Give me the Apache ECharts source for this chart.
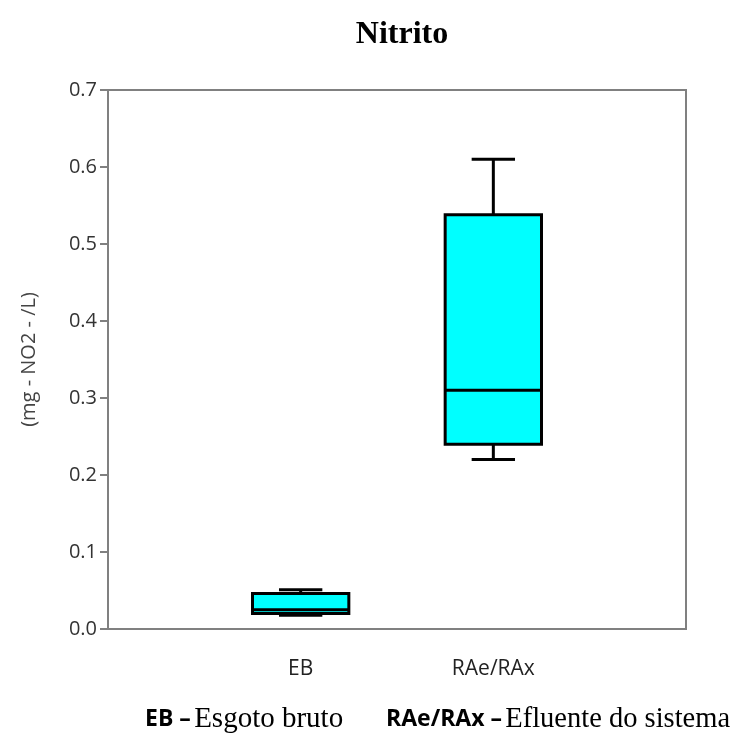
<!DOCTYPE html>
<html>
<head>
<meta charset="utf-8">
<script src="https://cdn.jsdelivr.net/npm/echarts@6/dist/echarts.min.js"></script>
<style>html,body{margin:0;padding:0;background:#fff;}#c{width:733px;height:744px;}</style>
</head>
<body>
<div id="c"></div>
<script>
var categories = ['', 'EB', 'RAe/RAx', ''];
// [category index, min, Q1, median, Q3, max]
var ebBox = [1, 0.018, 0.020, 0.025, 0.046, 0.051];
var raeBox = [2, 0.220, 0.240, 0.310, 0.538, 0.610];
var yTicks = [0, 0.1, 0.2, 0.3, 0.4, 0.5, 0.6, 0.7];

var chart = echarts.init(document.getElementById('c'));
chart.setOption({
  backgroundColor: '#fff',
  animation: false,
  title: {
    text: 'Nitrito', left: 397, top: 14, textAlign: 'center',
    textStyle: {fontFamily: 'Liberation Serif', fontWeight: 'bold', fontSize: 32, color: '#000'}
  },
  grid: {left: 108, right: 47, top: 90, bottom: 115, show: true, borderColor: '#808080', borderWidth: 2, backgroundColor: 'transparent'},
  xAxis: {
    type: 'category', data: categories, boundaryGap: false,
    axisLine: {show: false}, axisTick: {show: false}, splitLine: {show: false},
    axisLabel: {margin: 30, fontFamily: 'Open Sans', fontSize: 21, color: '#222', interval: 0}
  },
  yAxis: {
    type: 'value', min: 0, max: 0.7, interval: 0.1,
    name: '(mg - NO2 - /L)', nameLocation: 'middle', nameGap: 69, nameRotate: 90,
    nameTextStyle: {fontFamily: 'Open Sans', fontSize: 20, color: '#444'},
    axisLine: {show: true, lineStyle: {color: '#808080', width: 2}},
    axisTick: {show: true, length: 8, lineStyle: {color: '#808080', width: 2}},
    splitLine: {show: false},
    axisLabel: {margin: 11, fontFamily: 'Open Sans', fontSize: 20, color: '#333', formatter: function (v) { return v.toFixed(1); }}
  },
  series: [{
    type: 'custom',
    data: [ebBox, raeBox],
    renderItem: function (params, api) {
      var c = api.value(0);
      var x = api.coord([c, 0])[0];
      var step = api.size([1, 0])[0];
      var bw = step * 0.5, cw = step * 0.225;
      var yMin = api.coord([c, api.value(1)])[1];
      var yQ1 = api.coord([c, api.value(2)])[1];
      var yMed = api.coord([c, api.value(3)])[1];
      var yQ3 = api.coord([c, api.value(4)])[1];
      var yMax = api.coord([c, api.value(5)])[1];
      var ls = {stroke: '#000', lineWidth: 3};
      return {
        type: 'group',
        children: [
          {type: 'line', shape: {x1: x, y1: yMax, x2: x, y2: yQ3}, style: ls},
          {type: 'line', shape: {x1: x, y1: yQ1, x2: x, y2: yMin}, style: ls},
          {type: 'line', shape: {x1: x - cw / 2, y1: yMax, x2: x + cw / 2, y2: yMax}, style: ls},
          {type: 'line', shape: {x1: x - cw / 2, y1: yMin, x2: x + cw / 2, y2: yMin}, style: ls},
          {type: 'rect', shape: {x: x - bw / 2, y: yQ3, width: bw, height: yQ1 - yQ3}, style: {fill: '#00ffff', stroke: '#000', lineWidth: 3}},
          {type: 'line', shape: {x1: x - bw / 2, y1: yMed, x2: x + bw / 2, y2: yMed}, style: ls}
        ]
      };
    }
  }],
  graphic: [{
    type: 'text', left: 145, top: 705,
    style: {
      text: '{b|EB –} {s|Esgoto bruto}',
      rich: {
        b: {fontFamily: 'Open Sans', fontWeight: 'bold', fontSize: 23, fill: '#000'},
        s: {fontFamily: 'Liberation Serif', fontSize: 29, fill: '#000'}
      }
    }
  }, {
    type: 'text', left: 386, top: 705,
    style: {
      text: '{b|RAe/RAx –} {s|Efluente do sistema}',
      rich: {
        b: {fontFamily: 'Open Sans', fontWeight: 'bold', fontSize: 23, fill: '#000'},
        s: {fontFamily: 'Liberation Serif', fontSize: 28.5, fill: '#000'}
      }
    }
  }]
});
</script>
</body>
</html>
